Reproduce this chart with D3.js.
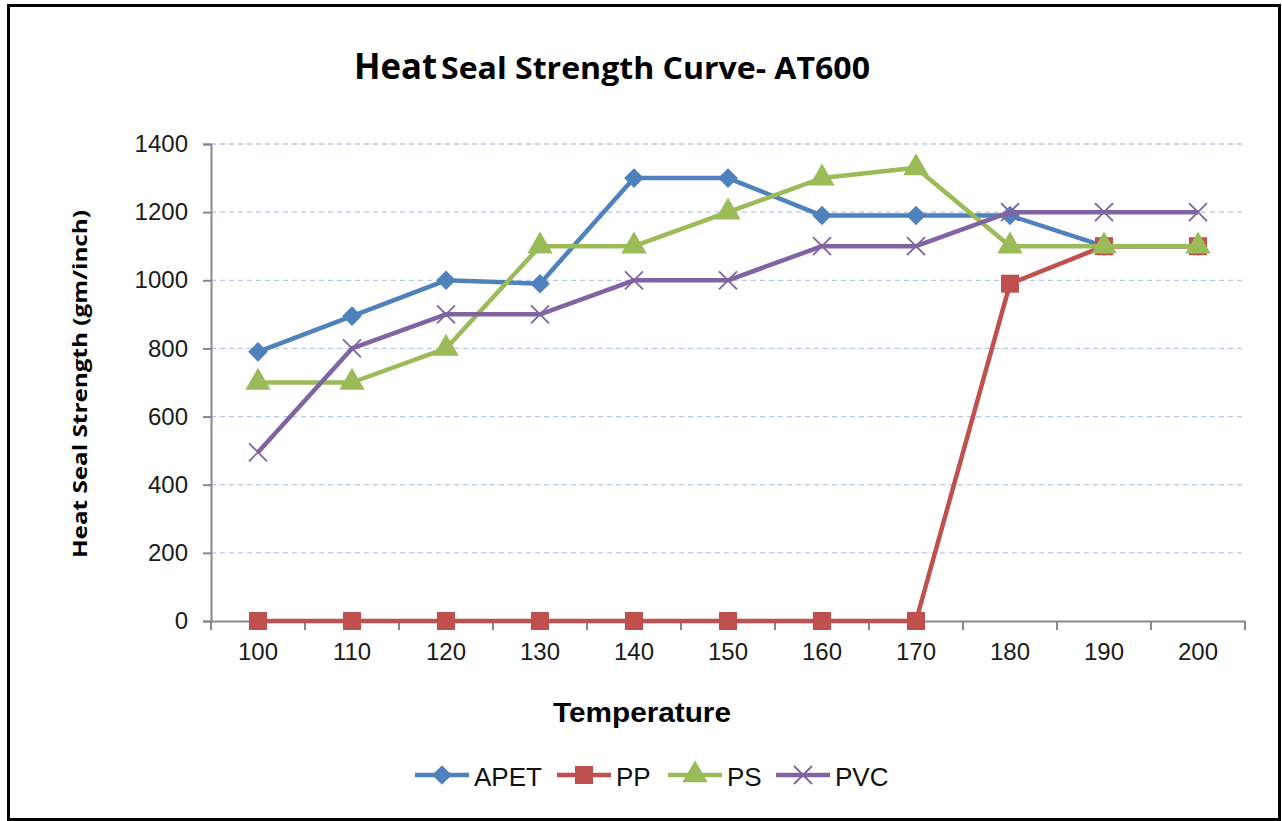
<!DOCTYPE html>
<html><head><meta charset="utf-8">
<script src="https://cdn.jsdelivr.net/npm/d3@7"></script>
<style>body{margin:0;background:#fff}svg{display:block}</style>
</head><body><svg id="c" width="1282" height="821"></svg>
<script>
const categories = [100,110,120,130,140,150,160,170,180,190,200];
const APET = [790,895,1000,990,1300,1300,1190,1190,1190,1100,1100];
const PP   = [0,0,0,0,0,0,0,0,990,1100,1100];
const PS   = [700,700,800,1100,1100,1200,1300,1330,1100,1100,1100];
const PVC  = [495,800,900,900,1000,1000,1100,1100,1200,1200,1200];
const yTicks = [0,200,400,600,800,1000,1200,1400];
const seriesNames = ["APET","PP","PS","PVC"];
const colors = ["#4F81BD","#C0504D","#9BBB59","#8064A2"];
const series = [APET,PP,PS,PVC];

const svg = d3.select("#c");
svg.append("rect").attr("x",8.5).attr("y",5.5).attr("width",1271).attr("height",814)
  .attr("fill","#fff").attr("stroke","#000").attr("stroke-width",3);

const L=211,R=1245,T=144,B=621;
const x = d3.scaleBand().domain(categories).range([L,R]);
const y = d3.scaleLinear().domain([0,1400]).range([B,T]);
const tickFont = "Liberation Sans, Arial";

// gridlines
svg.append("g").selectAll("line").data(yTicks.filter(d=>d>0)).join("line")
  .attr("x1",L).attr("x2",R).attr("y1",d=>y(d)).attr("y2",d=>y(d))
  .attr("stroke","#b4c6ee").attr("stroke-width",1.3).attr("stroke-dasharray","5,4");

// y axis
const ya = svg.append("g").attr("transform",`translate(${L},0)`)
  .call(d3.axisLeft(y).tickValues(yTicks).tickFormat(d3.format("d")).tickSize(8).tickPadding(15));
ya.select(".domain").attr("stroke","#888").attr("stroke-width",2);
ya.selectAll(".tick line").attr("stroke","#888").attr("stroke-width",2);
ya.selectAll("text").attr("font-family",tickFont).attr("font-size",24).attr("fill","#1a1a1a");

// x axis
const xa = svg.append("g").attr("transform",`translate(0,${B})`)
  .call(d3.axisBottom(x).tickSize(0).tickPadding(22));
xa.select(".domain").attr("stroke","#888").attr("stroke-width",2);
xa.selectAll("text").attr("font-family",tickFont).attr("font-size",24).attr("fill","#1a1a1a");
const bounds = categories.map(c=>x(c)).concat([R]);
xa.selectAll(".bt").data(bounds).join("line").attr("class","bt")
  .attr("x1",d=>d).attr("x2",d=>d).attr("y1",0).attr("y2",9)
  .attr("stroke","#888").attr("stroke-width",2);

const cx = c => x(c)+x.bandwidth()/2;
const line = d3.line().x((d,i)=>cx(categories[i])).y(d=>y(d));

function marker(g, type, color, size){
  if(type===0){ // diamond
    g.append("path").attr("d",d3.symbol(d3.symbolDiamond2,size*size*0.85)).attr("fill",color);
  } else if(type===1){
    g.append("rect").attr("x",-size/2).attr("y",-size/2).attr("width",size).attr("height",size).attr("fill",color);
  } else if(type===2){
    g.append("path").attr("d",d3.symbol(d3.symbolTriangle,size*size*0.7)).attr("fill",color);
  } else {
    const s=size/2;
    g.append("path").attr("d",`M${-s},${-s}L${s},${s}M${-s},${s}L${s},${-s}`)
      .attr("stroke",color).attr("stroke-width",1.8).attr("fill","none");
  }
}
const msize=[17,18,20,18];

series.forEach((vals,si)=>{
  svg.append("path").datum(vals).attr("d",line).attr("fill","none")
    .attr("stroke",colors[si]).attr("stroke-width",4.5).attr("stroke-linejoin","round");
  vals.forEach((v,i)=>{
    const g = svg.append("g").attr("transform",`translate(${cx(categories[i])},${y(v)})`);
    marker(g,si,colors[si],msize[si]);
  });
});

// title
svg.append("text").attr("x",354).attr("y",79).text("Heat")
  .attr("font-family","Open Sans").attr("font-weight","bold").attr("font-size",36).attr("fill","#000")
  .attr("textLength",83).attr("lengthAdjust","spacingAndGlyphs");
svg.append("text").attr("x",441).attr("y",79).text("Seal Strength Curve- AT600")
  .attr("font-family","Open Sans").attr("font-weight","bold").attr("font-size",30).attr("fill","#000")
  .attr("textLength",429).attr("lengthAdjust","spacingAndGlyphs");

// y label
svg.append("text").attr("transform","translate(87,384) rotate(-90)").attr("text-anchor","middle")
  .text("Heat Seal Strength (gm/inch)")
  .attr("font-family","Open Sans").attr("font-weight","bold").attr("font-size",20).attr("fill","#000")
  .attr("textLength",348).attr("lengthAdjust","spacingAndGlyphs");

// x label
svg.append("text").attr("x",553).attr("y",722).text("Temperature")
  .attr("font-family",tickFont).attr("font-weight","bold").attr("font-size",28).attr("fill","#000")
  .attr("textLength",178).attr("lengthAdjust","spacingAndGlyphs");

// legend
const legX=[415,557,668,776];
seriesNames.forEach((n,i)=>{
  const g=svg.append("g").attr("transform",`translate(${legX[i]},775)`);
  g.append("line").attr("x1",0).attr("x2",54).attr("y1",0).attr("y2",0).attr("stroke",colors[i]).attr("stroke-width",4.5);
  const m=g.append("g").attr("transform","translate(27,0)");
  marker(m,i,colors[i],msize[i]);
  g.append("text").attr("x",59).attr("y",11).text(n)
    .attr("font-family",tickFont).attr("font-size",26).attr("fill","#111");
});
</script></body></html>
